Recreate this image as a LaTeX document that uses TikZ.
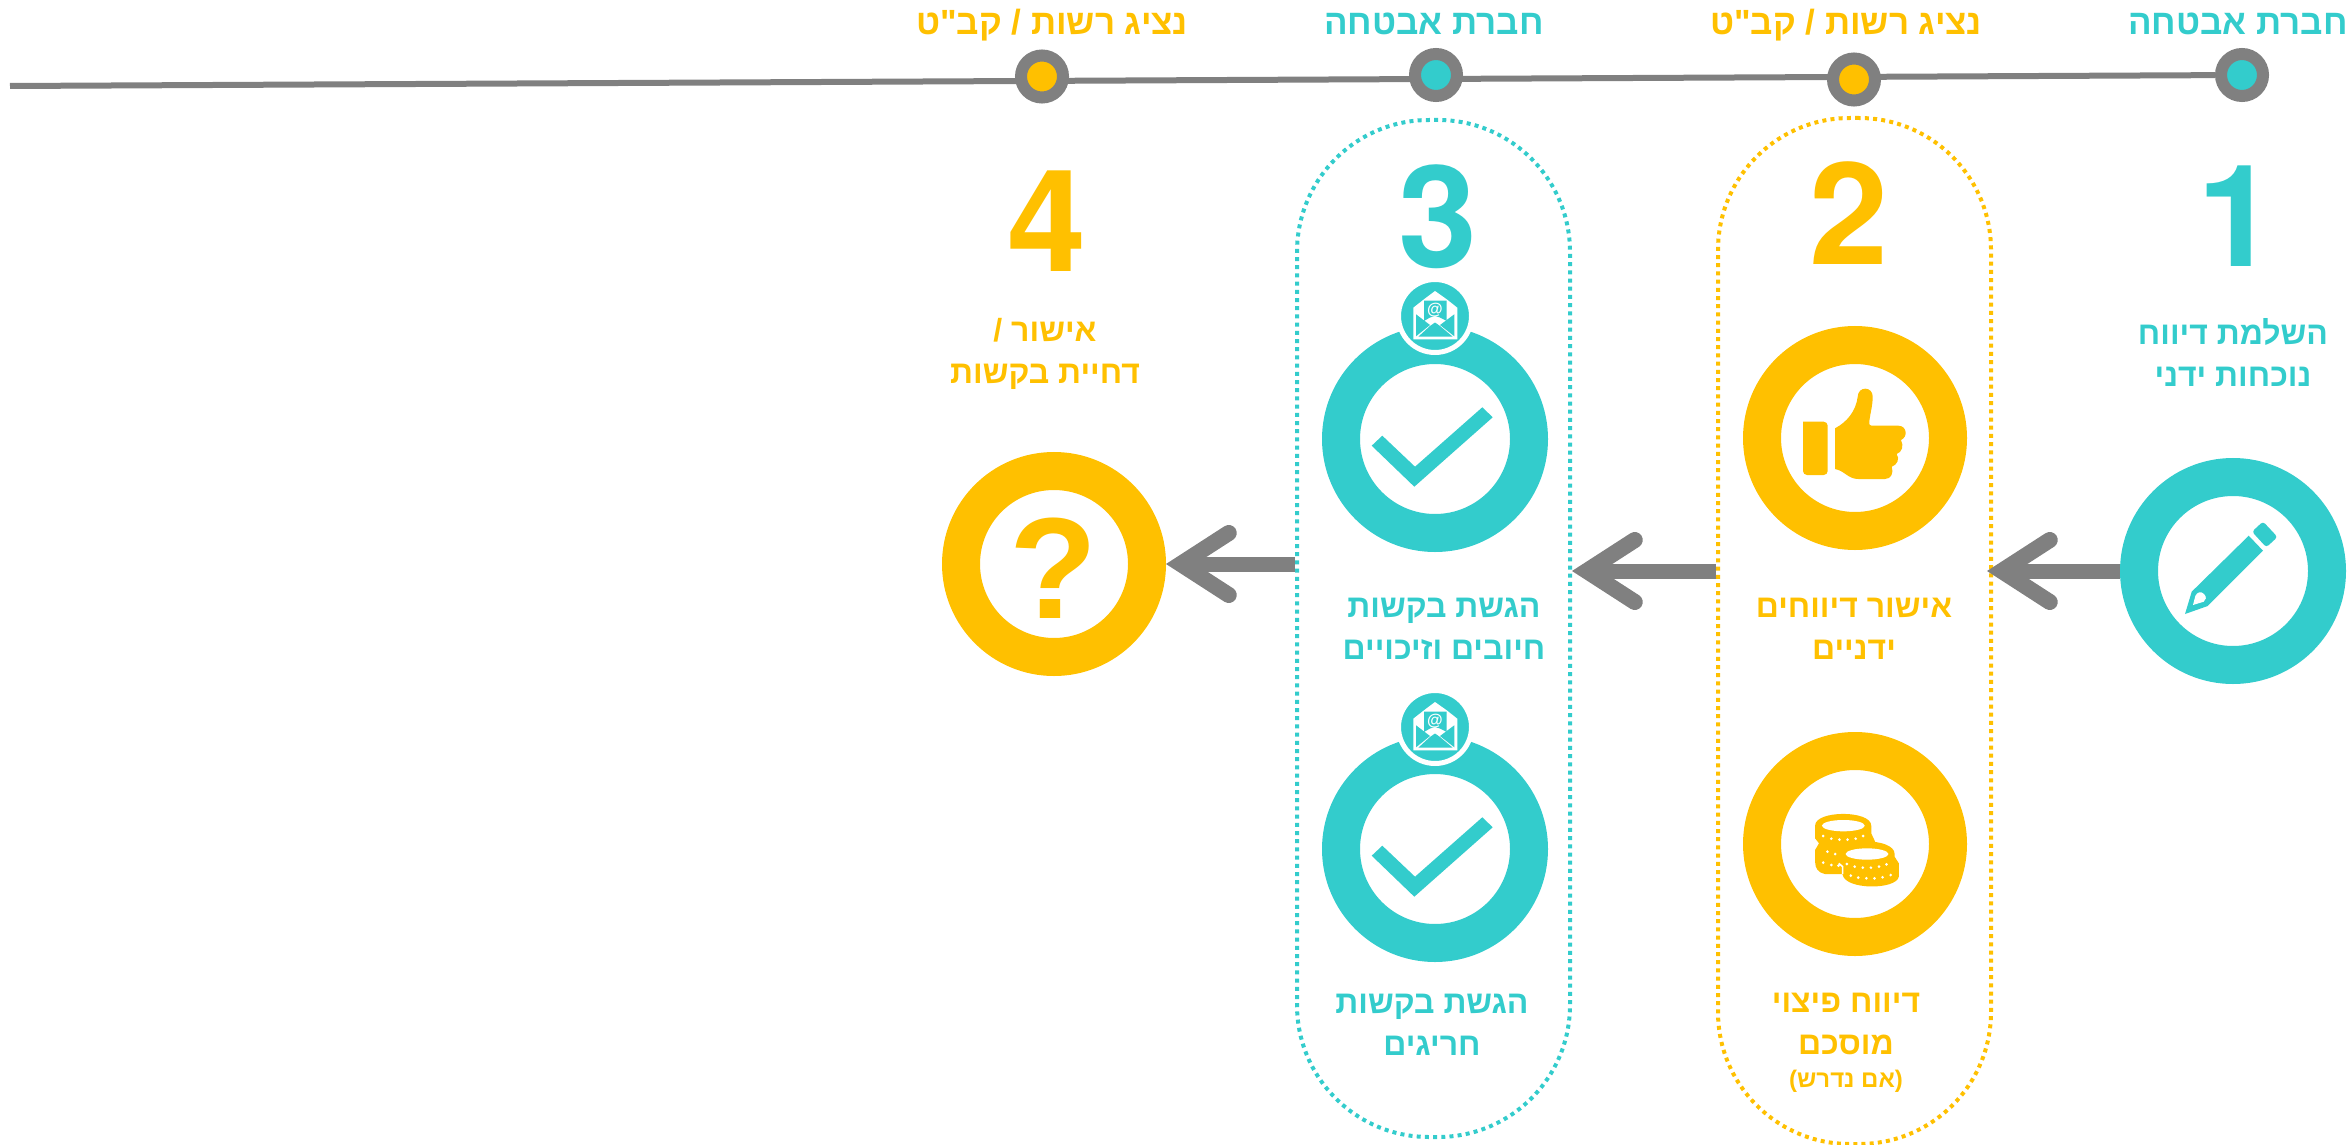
\documentclass[tikz,border=0pt]{standalone}
\usepackage{fontspec}
\usepackage{xcolor}
\usepackage{tikz}
\usetikzlibrary{arrows.meta}
\usetikzlibrary{positioning, shapes.misc, backgrounds}
\TeXXeTstate=1
\newfontfamily\hebfont[Script=Hebrew]{Liberation Sans}
\newfontfamily\numfont{TeX Gyre Heros}
\newcommand{\heb}[1]{\beginR #1\endR}
\definecolor{insurer}{HTML}{33CCCC}
\definecolor{authority}{HTML}{FFC000}
\definecolor{track}{HTML}{808080}
\tikzset{
ring/.style = { circle, draw = #1, line width = 19pt, fill = white, inner sep = 0pt, minimum size = 94pt },
small ring/.style = { circle, draw = #1, line width = 19pt, fill = white, inner sep = 0pt, minimum size = 93pt },
station/.style = { circle, draw = track, fill = #1, line width = 6pt, inner sep = 0pt, minimum size = 21pt },
lane/.style = { rectangle, draw = #1, line width = 2pt, dash pattern = on 2pt off 2.1pt, rounded corners = 66pt, inner sep = 0pt, minimum width = 136.5pt },
badge/.style = { circle, draw = white, fill = insurer, line width = 2.5pt, inner sep = 0pt, minimum size = 36.5pt },
header/.style = { text = #1, font = \hebfont\bfseries\fontsize{17.5}{21}\selectfont, anchor = base, inner sep = 0pt },
caption/.style = { text = #1, font = \hebfont\bfseries\fontsize{16}{21}\selectfont, align = center, inner sep = 0pt },
digit/.style = { text = #1, font = \numfont\bfseries\fontsize{71}{71}\selectfont, anchor = base, inner sep = 0pt },
flow/.style = { draw = track, line width = 7.5pt, -{Straight Barb[line cap = round, line join = miter, length = 24pt, width = 31pt, line width = 8pt]} },
}
\tikzset{
pics/check mark/.style = {
        code = {
        \path[fill = insurer] (-63.3, 6.7) -- (-52.7, -3.3) -- (-20, 27.7) -- (47.3, -31.7) -- (57.7, -21.7) -- (-20.7, 47.7) -- cycle;
        }
    },
pics/mail icon/.style = {
        code = {
        \path[fill = white] (-21.7, -8.3) -- (-11, -16.7) -- (0, -25) -- (11.7, -16.7) -- (22.3, -8.3) -- (22.3, 23.3) -- (-21.7, 23.3) -- cycle;
        \path[fill = insurer] (-11, -15.5) -- (11.7, -15.5) -- (11.7, 5) -- (5, 1.5) -- (0, 0) -- (-5, 1.5) -- (-11, 5) -- cycle;
        \path[fill = insurer] (-19, -1.7) -- (-5, 9) -- (-19, 20.3) -- cycle;
        \path[fill = insurer] (19.3, -1.7) -- (5, 9) -- (19.3, 20.3) -- cycle;
        \path[fill = insurer] (-16.7, 20.7) -- (-5, 10) -- (0, 6.5) -- (5, 10) -- (17.7, 20.7) -- cycle;
        \node[text = white, font = \hebfont\bfseries\fontsize{8}{8}\selectfont, inner sep = 0pt] (-at) at (0, -6) {@};
        }
    },
pics/pencil icon/.style = {
        code = {
        \path[fill = insurer, rounded corners = 1.5pt] (19, -39.3) -- (30, -49.5) -- (44.5, -34) -- (33.3, -23.7) -- cycle;
        \path[fill = insurer] (15.7, -35.3) -- (30, -20.3) -- (-25.3, 35) -- (-48, 43) -- (-41.3, 20.7) -- cycle;
        \path[fill = white] (-40, 34) -- (-37.7, 25) .. controls (-36, 21) and (-32, 20) .. (-29, 23) .. controls (-26, 26) and (-27, 29) .. (-29.3, 30.7) -- cycle;
        }
    },
pics/thumb icon/.style = {
        code = {
        \path[fill = authority, rounded corners = 2pt] (-52, -16.3) -- (-27.3, -16.3) -- (-27.3, 37) -- (-52, 37) [sharp corners] -- cycle;
        \path[fill = authority] (-20, -9.7) .. controls (-8, -16) and (1, -27) .. (2.7, -41.3)
            .. controls (3, -52) and (17.7, -52) .. (17.7, -41.3)
            .. controls (17.7, -32) and (15, -24) .. (14.3, -16.3) .. controls (14, -13) and (15, -12.3) .. (16.7, -12.3)
            -- (43.3, -12.3) .. controls (52, -12.3) and (53, -1) .. (46, 2)
            .. controls (49, 8) and (47, 14) .. (41.7, 16) .. controls (45, 21) and (42, 27) .. (36.7, 28.7)
            .. controls (39, 35) and (36, 41) .. (30, 41) -- (3.3, 41)
            .. controls (-7, 41) and (-10, 33) .. (-20, 31) -- cycle;
        }
    },
pics/coins icon/.style = {
        code = {
        \begin{scope}[x = 0.1623pt, y = -0.1667pt, shift = {(-463, -432)}]
        \path[fill = authority] (340, 377) .. controls (340, 330) and (513, 330) .. (513, 377) -- (513, 400) -- (525, 425) -- (525, 500) -- (425, 522) -- (370, 522) .. controls (350, 518) and (340, 505) .. (340, 485) -- (340, 450) -- (352, 430) -- (340, 415) -- cycle;
        \path[fill = authority] (415, 462) .. controls (415, 412) and (585, 412) .. (585, 462) -- (585, 470) -- (598, 490) -- (598, 530) .. controls (590, 570) and (435, 570) .. (425, 525) -- (415, 490) -- cycle;
        \path[draw = white, line width = 0.8pt] (425, 522) -- (425, 500) -- (413, 490);
        \path[fill = white] (427, 377) ellipse (66 and 17);
        \path[fill = white] (500, 462) ellipse (66 and 17);
        \foreach \dotx/\doty in {365/408, 390/416, 415/419, 440/419, 465/416, 488/408, 378/455, 402/462, 365/488, 390/495, 412/497, 438/492, 462/500, 487/503, 512/503, 537/500, 560/493, 450/527, 473/533, 498/535, 523/535, 548/532, 573/525}
            \path[fill = white] (\dotx, \doty) circle (4.5);
        \end{scope}
        }
    },
}
\begin{document}
\begin{tikzpicture}[x=0.5pt, y=-0.5pt]
      \useasboundingbox (0,0) rectangle (2351,1145);
      % time line
      \coordinate (start) at (10,86);
      \node[station=insurer] (st1) at (2242,75) {};
      \node[station=authority] (st2) at (1854,79.5) {};
      \node[station=insurer] (st3) at (1436,75) {};
      \node[station=authority] (st4) at (1042,76.5) {};
      \begin{scope}[on background layer]
        \draw[draw=track, line width=3pt] (start) -- (st1);
      \end{scope}
      \node[header=insurer] (who1) at (2238,35) {\heb{חברת אבטחה}};
      \node[header=authority] (who2) at (1846,35) {\heb{נציג רשות / קב"ט}};
      \node[header=insurer] (who3) at (1434,35) {\heb{חברת אבטחה}};
      \node[header=authority] (who4) at (1052,35) {\heb{נציג רשות / קב"ט}};
      % lanes
      \node[lane=authority, minimum height=513pt] (lane2) at (1854.5,631) {};
      \node[lane=insurer, minimum height=508.5pt] (lane3) at (1433.5,628.5) {};
      % numbers
      \node[digit=insurer] (num1) at (2237,266) {1};
      \node[digit=authority] (num2) at (1849,264) {2};
      \node[digit=insurer] (num3) at (1438,267) {3};
      \node[digit=authority] (num4) at (1047,271) {4};
      % rings
      \node[ring=insurer] (ring1) at (2233,571) {};
      \node[small ring=authority] (ring2) at (1855,438) {};
      \node[small ring=authority] (ring2b) at (1855,844) {};
      \node[ring=insurer] (ring3) at (1435,439) {};
      \node[ring=insurer] (ring3b) at (1435,849) {};
      \node[small ring=authority] (ring4) at (1054,564) {};
      \node[badge] (badge3) at (1435,316) {};
      \node[badge] (badge3b) at (1435,727) {};
      \pic at (ring1) {pencil icon};
      \pic at (ring2) {thumb icon};
      \pic at (ring2b) {coins icon};
      \pic at (ring3) {check mark};
      \pic at (ring3b) {check mark};
      \pic (mail3) at (badge3) {mail icon};
      \pic (mail3b) at (badge3b) {mail icon};
      \node[text=authority, font=\hebfont\bfseries\fontsize{72}{72}\selectfont, inner sep=0pt] (ask) at (1053,568) {?};
      % captions
      \node[caption=insurer] (text1) at (2233,352) {\heb{השלמת דיווח}\\\heb{נוכחות ידני}};
      \node[caption=authority] (text2) at (1854,629) {\heb{אישור דיווחים}\\\heb{ידניים}};
      \node[caption=authority] (text2b) at (1846,1024) {\heb{דיווח פיצוי}\\\heb{מוסכם}};
      \node[caption=authority, font=\hebfont\bfseries\fontsize{12}{14}\selectfont] (note2b) at (1846,1081) {\heb{(אם נדרש)}};
      \node[caption=insurer] (text3) at (1444,629) {\heb{הגשת בקשות}\\\heb{חיובים וזיכויים}};
      \node[caption=insurer] (text3b) at (1432,1025) {\heb{הגשת בקשות}\\\heb{חריגים}};
      \node[caption=authority] (text4) at (1045,354) {\heb{אישור /}\\\heb{דחיית בקשות}};
      % arrows
      \draw[flow, shorten >=-3pt] (ring1.west) -- (lane2.east |- ring1.west);
      \draw[flow] (lane2.west |- ring1.west) -- (lane3.east |- ring1.west);
      \draw[flow] (lane3.west |- ring4.east) -- (ring4.east);
    \end{tikzpicture}
\end{document}
